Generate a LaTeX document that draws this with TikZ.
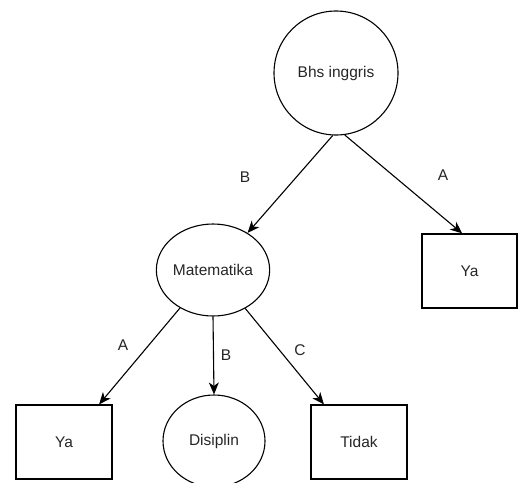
\documentclass[tikz,border=0pt]{standalone}
\usepackage{fontspec}
\setmainfont{Liberation Sans}
\usetikzlibrary{shapes.geometric,arrows.meta}
\begin{document}
\begin{tikzpicture}[x=1pt,y=-1pt,
  every node/.style={font=\fontsize{15.5}{18}\selectfont, text=black!85},
  circ/.style={draw, circle, line width=1.1pt, inner sep=0pt, minimum size=124pt},
  ell/.style={draw, ellipse, line width=1.1pt, inner sep=0pt, minimum width=100pt, minimum height=92pt},
  leaf/.style={draw, rectangle, line width=1.2pt, inner sep=0pt, minimum width=96pt, minimum height=74pt},
  conn/.style={line width=1.1pt, -{Stealth[length=12pt,width=10pt,inset=3.5pt]}},
  lbl/.style={inner sep=0pt}
]
\path[use as bounding box] (0,0) rectangle (526,482);
\node[circ] (root) at (336,73) {Bhs inggris};
\node[ell] (mat) at (213,270) {Matematika};
\node[leaf, minimum width=95pt] (ya1) at (469.5,271) {Ya};
\node[leaf] (ya2) at (64,442) {Ya};
\node[ell, minimum width=102pt] (dis) at (214,441) {Disiplin};
\node[leaf] (tid) at (359,442) {Tidak};

\draw[conn] (root.-93) -- (mat.47);
\draw[conn] (root.-82) -- (ya1.101);
\draw[conn] (mat.229) -- (ya2.47);
\draw[conn] (mat.south) -- (dis.north);
\draw[conn] (mat.310) -- (tid.133);

\node[lbl] (lb1) at (245,177) {B};
\node[lbl] (la1) at (443,175) {A};
\node[lbl] (la2) at (123,345) {A};
\node[lbl] (lb2) at (226,355) {B};
\node[lbl] (lc2) at (300,350) {C};
\end{tikzpicture}
\end{document}
